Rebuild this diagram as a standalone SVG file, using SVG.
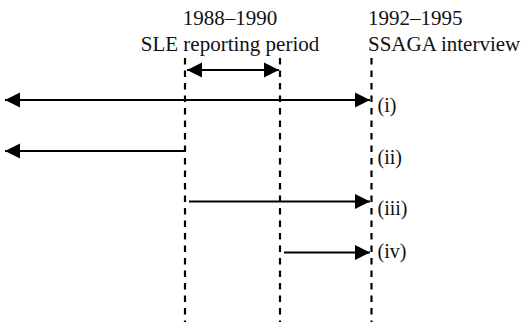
<svg xmlns="http://www.w3.org/2000/svg" width="523" height="324" viewBox="0 0 523 324">
<style>
text{font-family:"Liberation Serif","Times New Roman",serif;font-size:21px;fill:#111}
.lbl{font-size:20px}
.dash{stroke:#000;stroke-width:2.2;stroke-dasharray:6.5 6;fill:none}
.arr{stroke:#000;stroke-width:2.2;fill:none}
</style>
<defs>
<marker id="ah" markerUnits="userSpaceOnUse" markerWidth="16" markerHeight="16" refX="15" refY="8" orient="auto-start-reverse">
<path d="M0,0.5 L15,8 L0,15.5 z" fill="#000"/>
</marker>
</defs>
<rect width="523" height="324" fill="#fff"/>
<g id="header-sle">
<text x="230" y="25" text-anchor="middle">1988–1990</text>
<text x="230" y="51" text-anchor="middle">SLE reporting period</text>
</g>
<g id="header-ssaga">
<text x="368" y="25">1992–1995</text>
<text x="368" y="51">SSAGA interview</text>
</g>
<g id="timelines">
<line class="dash" x1="185" y1="58" x2="185" y2="322"/>
<line class="dash" x1="280" y1="58" x2="280" y2="322"/>
<line class="dash" x1="371.5" y1="58" x2="371.5" y2="322"/>
</g>
<g id="connectors">
<line class="arr" x1="187" y1="70" x2="279" y2="70" marker-start="url(#ah)" marker-end="url(#ah)"/>
<line class="arr" x1="5" y1="100" x2="370" y2="100" marker-start="url(#ah)" marker-end="url(#ah)"/>
<line class="arr" x1="185" y1="151" x2="5" y2="151" marker-end="url(#ah)"/>
<line class="arr" x1="189" y1="201.5" x2="370" y2="201.5" marker-end="url(#ah)"/>
<line class="arr" x1="284" y1="252.5" x2="370" y2="252.5" marker-end="url(#ah)"/>
</g>
<g id="labels">
<text class="lbl" x="377.5" y="111.5">(i)</text>
<text class="lbl" x="377.5" y="163.5">(ii)</text>
<text class="lbl" x="377.5" y="215">(iii)</text>
<text class="lbl" x="377.5" y="258">(iv)</text>
</g>
</svg>
